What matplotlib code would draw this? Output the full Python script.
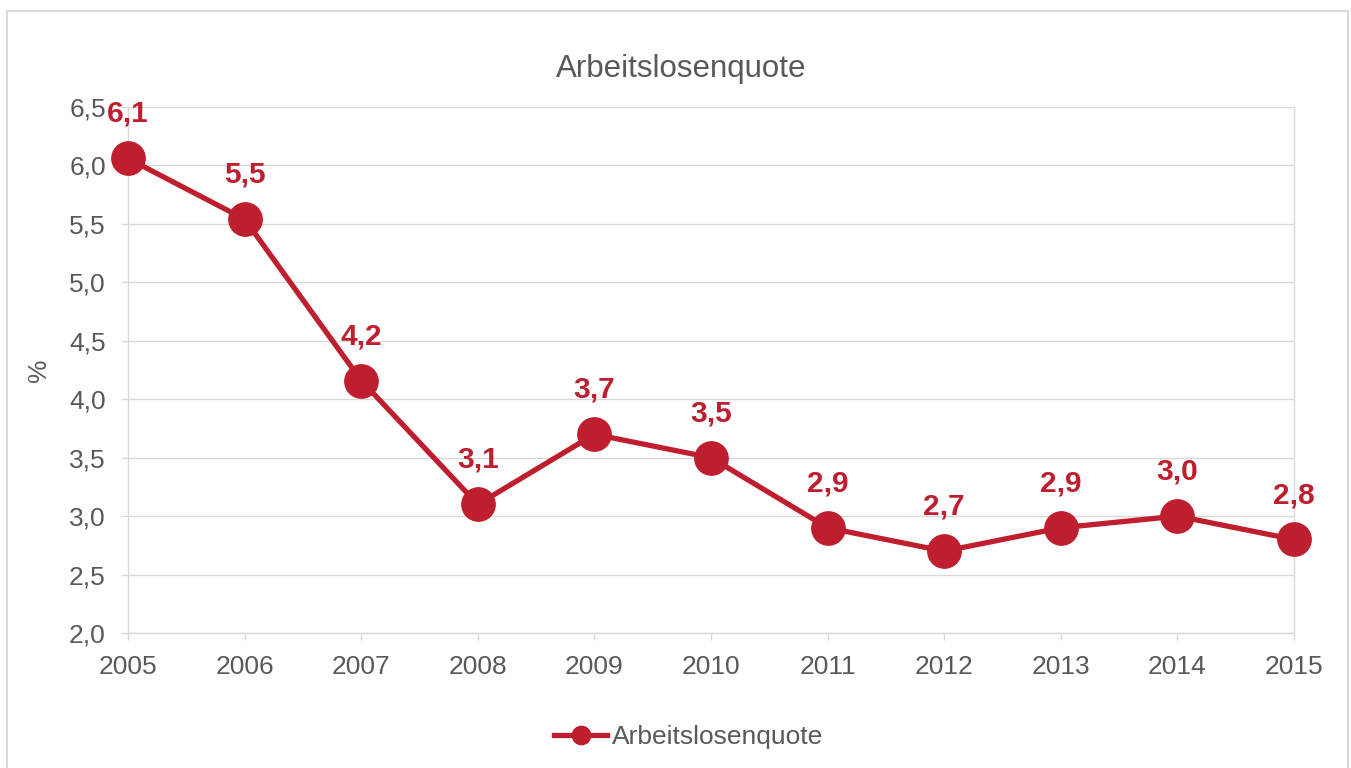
import matplotlib.pyplot as plt
from matplotlib.patches import Rectangle

plt.rcParams['font.family'] = ['Liberation Sans', 'DejaVu Sans']

# Arbeitslosenquote in % pro Jahr
jahre = [2005, 2006, 2007, 2008, 2009, 2010, 2011, 2012, 2013, 2014, 2015]
quote = [6.06, 5.54, 4.16, 3.1, 3.7, 3.5, 2.9, 2.7, 2.9, 3.0, 2.8]
y_ticks = [2.0, 2.5, 3.0, 3.5, 4.0, 4.5, 5.0, 5.5, 6.0, 6.5]

ROT = '#BE1E2D'
GRAU = '#595959'
GITTER = '#D9D9D9'

fig = plt.figure(figsize=(13.51, 7.68), dpi=100)
ax = fig.add_axes([128/1351, 1-633/768, (1294-128)/1351, (633-107)/768])

# Rahmen um das ganze Diagramm
fig.patches.append(Rectangle((7/1351, -0.01), (1348-7)/1351, 1-11/768+0.01,
                             transform=fig.transFigure, fill=False,
                             edgecolor=GITTER, linewidth=1.5))

ax.plot(jahre, quote, '-o', color=ROT, linewidth=3.8, markersize=24,
        clip_on=False, zorder=3, label='Arbeitslosenquote')

for x, y in zip(jahre, quote):
    ax.annotate(f'{y:.1f}'.replace('.', ','), xy=(x, y), xytext=(0, 32),
                textcoords='offset points', ha='center', va='center',
                fontsize=21.5, fontweight='bold', color=ROT, zorder=4)

ax.set_xlim(2005, 2015)
ax.set_ylim(2.0, 6.5)
ax.set_xticks(jahre)
ax.set_yticks(y_ticks)
ax.set_yticklabels([f'{v:.1f}'.replace('.', ',') for v in y_ticks])

ax.yaxis.grid(True, color=GITTER, linewidth=1)
ax.set_axisbelow(True)
ax.spines['top'].set_visible(False)
for s in ['left', 'right', 'bottom']:
    ax.spines[s].set_color(GITTER)
    ax.spines[s].set_linewidth(1)

ax.tick_params(axis='both', colors=GITTER, labelcolor=GRAU, labelsize=19,
               length=5, width=1)
ax.tick_params(axis='x', pad=11)
ax.tick_params(axis='y', pad=11)

ax.set_ylabel('%', color=GRAU, fontsize=19)
ax.yaxis.set_label_coords(-0.066, 0.5)

fig.text(681/1351, 1-69/768, 'Arbeitslosenquote', ha='center', va='center',
         fontsize=22.5, color=GRAU)

leg = fig.legend(loc='center', bbox_to_anchor=(689/1351, 1-737/768), frameon=False,
                 fontsize=19, labelcolor=GRAU, handlelength=2.0, handletextpad=0.2,
                 markerscale=0.55)
for h in leg.legend_handles:
    h.set_linewidth(3.8)

plt.savefig('out.png', dpi=100)
